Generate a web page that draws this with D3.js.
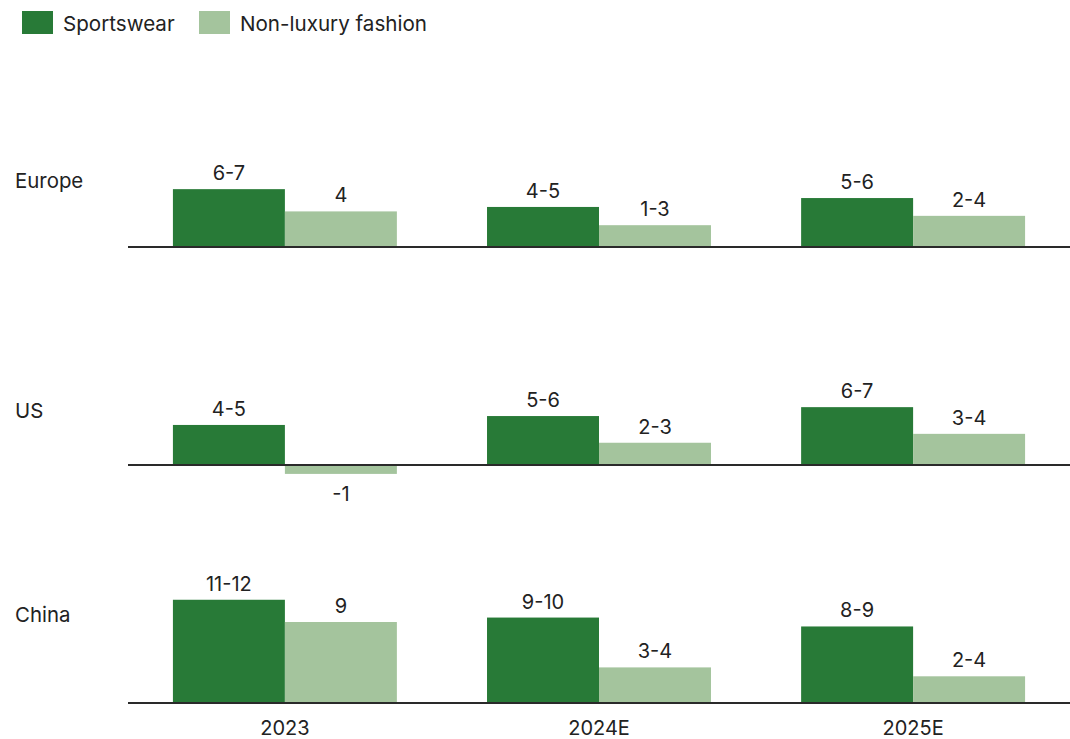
<!DOCTYPE html>
<html>
<head>
<meta charset="utf-8">
<script src="https://cdn.jsdelivr.net/npm/d3@7"></script>
<style>
  html, body { margin: 0; padding: 0; background: #fff; }
  svg { display: block; font-family: Inter, "Noto Sans", sans-serif; }
</style>
</head>
<body>
<svg id="chart" width="1070" height="739"></svg>
<script>
// ---- data ----
const years = ["2023", "2024E", "2025E"];
const regions = ["Europe", "US", "China"];
const seriesNames = ["Sportswear", "Non-luxury fashion"];
const europeSports = [6.5, 4.5, 5.5];
const europeSportsLabels = ["6-7", "4-5", "5-6"];
const europeFashion = [4, 2.45, 3.5];
const europeFashionLabels = ["4", "1-3", "2-4"];
const usSports = [4.5, 5.5, 6.5];
const usSportsLabels = ["4-5", "5-6", "6-7"];
const usFashion = [-1, 2.5, 3.5];
const usFashionLabels = ["-1", "2-3", "3-4"];
const chinaSports = [11.6, 9.6, 8.6];
const chinaSportsLabels = ["11-12", "9-10", "8-9"];
const chinaFashion = [9.1, 4, 3];
const chinaFashionLabels = ["9", "3-4", "2-4"];

const panels = [
  { name: regions[0], sports: europeSports, sL: europeSportsLabels, fashion: europeFashion, fL: europeFashionLabels, base: 247, labelY: 188 },
  { name: regions[1], sports: usSports, sL: usSportsLabels, fashion: usFashion, fL: usFashionLabels, base: 465, labelY: 418 },
  { name: regions[2], sports: chinaSports, sL: chinaSportsLabels, fashion: chinaFashion, fL: chinaFashionLabels, base: 703, labelY: 622 }
];

const colors = ["#287a37", "#a4c49d"];
const textColor = "#222";

const svg = d3.select("#chart");

const x = d3.scaleBand().domain(years).range([128, 1070]).paddingInner(0.287).paddingOuter(0.143);
const xs = d3.scaleBand().domain(seriesNames).range([0, x.bandwidth()]);
// shared vertical scale, relative to each panel baseline
const y = d3.scaleLinear().domain([0, 12]).range([0, -106.8]);

// ---- legend ----
const legendItems = [
  { name: seriesNames[0], color: colors[0], x: 22 },
  { name: seriesNames[1], color: colors[1], x: 199 }
];
const lg = svg.append("g");
legendItems.forEach(d => {
  lg.append("rect").attr("x", d.x).attr("y", 11).attr("width", 31).attr("height", 23).attr("fill", d.color);
  lg.append("text").attr("x", d.x + 41).attr("y", 31).attr("font-size", 20.6).attr("fill", textColor).text(d.name);
});

// ---- panels ----
panels.forEach(p => {
  const g = svg.append("g").attr("transform", `translate(0,${p.base})`);
  const rows = years.map((yr, i) => [
    { yr, s: seriesNames[0], v: p.sports[i], label: p.sL[i], color: colors[0] },
    { yr, s: seriesNames[1], v: p.fashion[i], label: p.fL[i], color: colors[1] }
  ]).flat();

  g.selectAll("rect.bar").data(rows).join("rect")
    .attr("class", "bar")
    .attr("x", d => x(d.yr) + xs(d.s))
    .attr("width", xs.bandwidth())
    .attr("y", d => Math.min(y(d.v), y(0)))
    .attr("height", d => Math.abs(y(d.v) - y(0)))
    .attr("fill", d => d.color);

  g.selectAll("text.val").data(rows).join("text")
    .attr("class", "val")
    .attr("x", d => x(d.yr) + xs(d.s) + xs.bandwidth() / 2)
    .attr("y", d => d.v >= 0 ? y(d.v) - 9 : y(d.v) + 27)
    .attr("text-anchor", "middle")
    .attr("font-size", 20)
    .attr("fill", textColor)
    .text(d => d.label);

  g.append("line")
    .attr("x1", x.range()[0]).attr("x2", x.range()[1])
    .attr("y1", y(0)).attr("y2", y(0))
    .attr("stroke", "#2a2a2a").attr("stroke-width", 2);

  svg.append("text")
    .attr("x", 15).attr("y", p.labelY)
    .attr("font-size", 20.4).attr("fill", textColor)
    .text(p.name);
});

// ---- x category labels ----
const xAxis = d3.axisBottom(x).tickSize(0).tickPadding(0);
const ax = svg.append("g").attr("transform", "translate(0,721)").call(xAxis);
ax.select(".domain").remove();
ax.selectAll("text").attr("font-size", 20).attr("fill", textColor).attr("font-family", "Inter, 'Noto Sans', sans-serif");
</script>
</body>
</html>
